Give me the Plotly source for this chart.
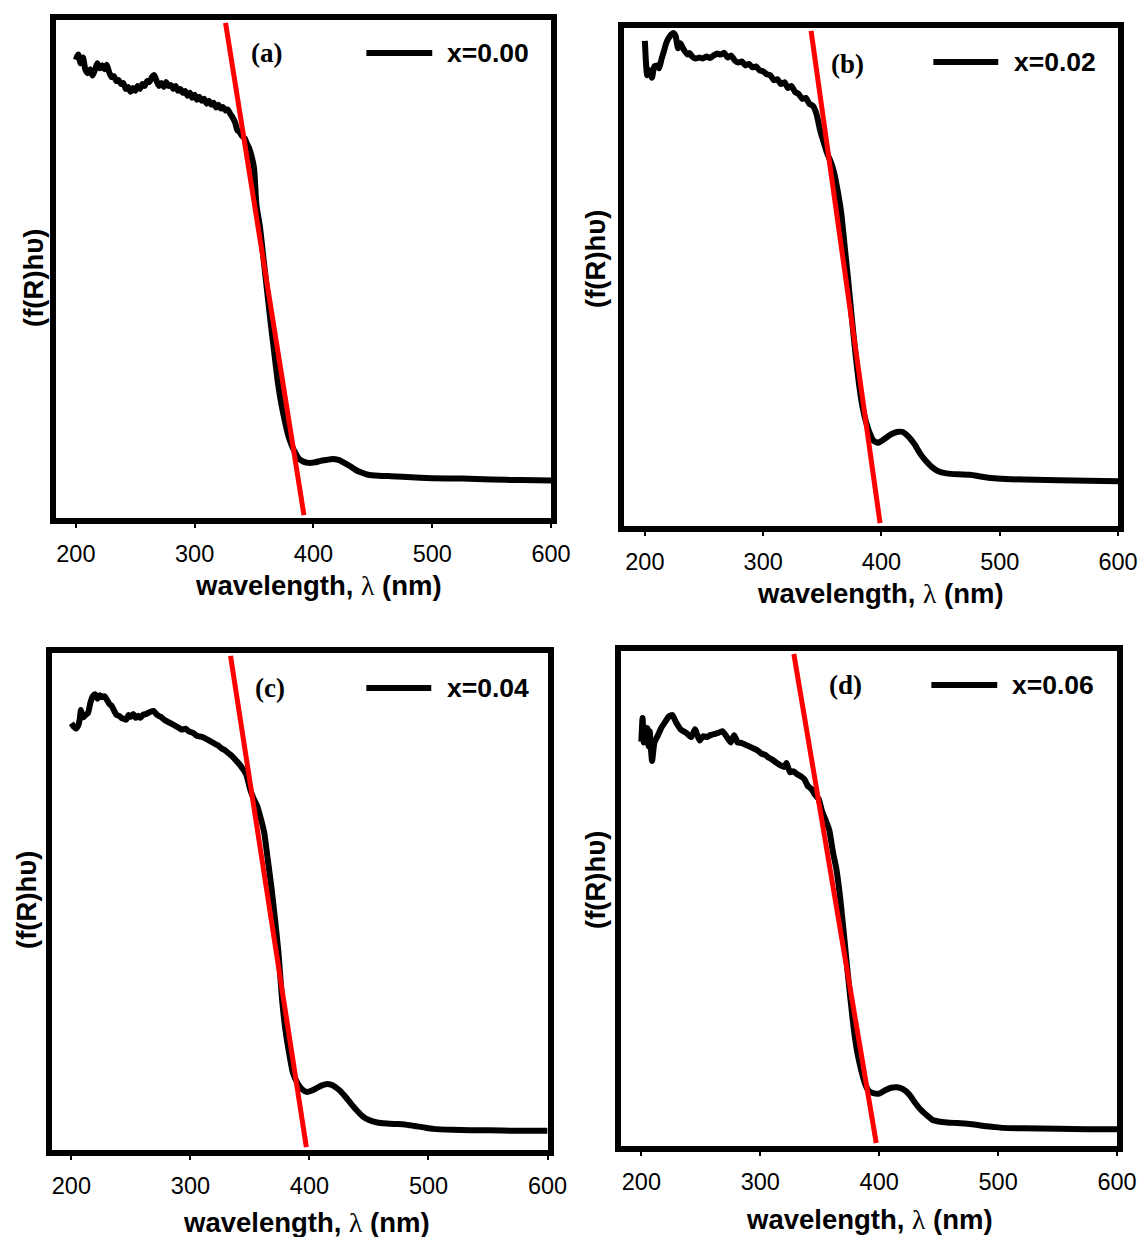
import plotly.graph_objects as go

W, H = 1144, 1237      # reference picture size; all pixel positions below are measured on it
FIG_W = 1162           # page is photographed slightly wider than it is compared, so widen to fill

# ---- data (y is a fraction of the frame height) ----
wl_a = [
    200, 202, 204, 206, 208, 210, 212, 214, 216, 218,
    220, 222, 224, 226, 228, 230, 232, 234, 236, 238,
    240, 242, 244, 246, 248, 250, 252, 254, 256, 258,
    260, 262, 264, 266, 268, 270, 272, 274, 276, 278,
    280, 282, 284, 286, 288, 290, 292, 294, 296, 298,
    300, 302, 304, 306, 308, 310, 312, 314, 316, 318,
    320, 322, 324, 326, 328, 330, 332, 334, 336, 338,
    340, 342, 344, 346, 348, 350, 352, 355, 358, 361,
    364, 367, 370, 373, 376, 379, 382, 385, 388, 392,
    396, 401, 406, 411, 416, 421, 426, 431, 436, 441,
    446, 455, 465, 475, 490, 500, 525, 550, 575, 600,
]
fr_a = [
    0.925, 0.936, 0.918, 0.930, 0.905, 0.898, 0.906, 0.893, 0.904, 0.918,
    0.908, 0.914, 0.906, 0.915, 0.900, 0.890, 0.892, 0.882, 0.884, 0.876,
    0.878, 0.866, 0.870, 0.860, 0.868, 0.862, 0.872, 0.866, 0.876, 0.872,
    0.882, 0.880, 0.890, 0.894, 0.882, 0.872, 0.878, 0.870, 0.880, 0.872,
    0.874, 0.866, 0.872, 0.862, 0.866, 0.858, 0.862, 0.852, 0.858, 0.848,
    0.854, 0.844, 0.850, 0.842, 0.846, 0.836, 0.842, 0.834, 0.838, 0.828,
    0.834, 0.826, 0.829, 0.822, 0.824, 0.815, 0.808, 0.798, 0.782, 0.778,
    0.770, 0.766, 0.755, 0.745, 0.728, 0.705, 0.630, 0.585, 0.520, 0.455,
    0.390, 0.330, 0.270, 0.225, 0.190, 0.160, 0.140, 0.125, 0.114, 0.108,
    0.106, 0.107, 0.110, 0.112, 0.114, 0.112, 0.106, 0.099, 0.091, 0.086,
    0.082, 0.080, 0.079, 0.078, 0.076, 0.075, 0.074, 0.072, 0.071, 0.070,
]

wl_b = [
    200, 202, 204, 206, 208, 210, 212, 214, 216, 218,
    220, 222, 224, 226, 228, 230, 232, 234, 236, 238,
    240, 243, 246, 249, 252, 255, 258, 261, 264, 267,
    270, 273, 276, 279, 282, 285, 288, 291, 294, 297,
    300, 303, 306, 309, 312, 315, 318, 321, 324, 327,
    330, 333, 336, 339, 342, 345, 348, 351, 354, 357,
    360, 363, 366, 369, 372, 375, 378, 381, 384, 387,
    390, 393, 397, 402, 408, 413, 418, 423, 428, 433,
    438, 443, 448, 455, 465, 475, 485, 495, 510, 530,
    550, 575, 600,
]
fr_b = [
    0.980, 0.910, 0.920, 0.905, 0.928, 0.930, 0.924, 0.942, 0.958, 0.975,
    0.985, 0.992, 0.996, 0.990, 0.965, 0.975, 0.966, 0.958, 0.952, 0.955,
    0.948, 0.944, 0.946, 0.944, 0.948, 0.945, 0.950, 0.954, 0.952, 0.956,
    0.946, 0.950, 0.940, 0.936, 0.938, 0.930, 0.933, 0.926, 0.928, 0.920,
    0.918, 0.912, 0.910, 0.900, 0.902, 0.892, 0.896, 0.884, 0.888, 0.876,
    0.872, 0.862, 0.864, 0.852, 0.848, 0.832, 0.800, 0.775, 0.752, 0.735,
    0.712, 0.675, 0.630, 0.560, 0.490, 0.415, 0.345, 0.283, 0.236, 0.205,
    0.183, 0.168, 0.163, 0.170, 0.180, 0.185, 0.185, 0.175, 0.160, 0.140,
    0.125, 0.113, 0.105, 0.101, 0.099, 0.098, 0.094, 0.091, 0.089, 0.088,
    0.087, 0.086, 0.085,
]

wl_c = [
    200, 202, 204, 206, 207, 208, 209, 210, 212, 214,
    216, 218, 220, 222, 224, 226, 228, 230, 232, 234,
    236, 238, 240, 242, 244, 246, 248, 250, 252, 254,
    256, 258, 260, 263, 266, 269, 272, 275, 278, 281,
    284, 287, 290, 293, 296, 299, 302, 305, 308, 311,
    314, 317, 320, 323, 326, 329, 332, 335, 338, 341,
    344, 347, 350, 353, 356, 359, 362, 365, 368, 371,
    374, 377, 380, 383, 386, 390, 394, 398, 402, 406,
    410, 414, 418, 422, 426, 430, 435, 440, 445, 450,
    457, 465, 472, 480, 488, 496, 504, 520, 550, 575,
    600,
]
fr_c = [
    0.863, 0.856, 0.852, 0.860, 0.871, 0.890, 0.880, 0.875, 0.880, 0.884,
    0.905, 0.918, 0.922, 0.913, 0.920, 0.916, 0.918, 0.910, 0.902, 0.898,
    0.888, 0.880, 0.878, 0.874, 0.872, 0.870, 0.880, 0.876, 0.882, 0.874,
    0.878, 0.874, 0.880, 0.882, 0.886, 0.888, 0.880, 0.876, 0.870, 0.866,
    0.862, 0.858, 0.854, 0.850, 0.852, 0.846, 0.844, 0.838, 0.836, 0.834,
    0.830, 0.826, 0.822, 0.818, 0.812, 0.808, 0.802, 0.796, 0.788, 0.780,
    0.770, 0.758, 0.730, 0.710, 0.695, 0.670, 0.640, 0.585, 0.530, 0.465,
    0.395, 0.300, 0.235, 0.190, 0.152, 0.130, 0.117, 0.112, 0.115, 0.120,
    0.125, 0.128, 0.127, 0.122, 0.114, 0.103, 0.088, 0.074, 0.062, 0.055,
    0.050, 0.048, 0.047, 0.046, 0.043, 0.040, 0.037, 0.035, 0.034, 0.033,
    0.033,
]

wl_d = [
    200, 201, 202, 203, 204, 205, 206, 207, 208, 209,
    211, 214, 217, 220, 223, 226, 229, 233, 238, 242,
    245, 249, 252, 255, 258, 261, 264, 268, 272, 275,
    278, 281, 284, 287, 290, 294, 297, 301, 304, 307,
    310, 314, 317, 320, 322, 325, 328, 331, 334, 337,
    340, 343, 346, 349, 352, 355, 358, 361, 364, 367,
    370, 373, 376, 379, 382, 385, 388, 391, 395, 400,
    405, 410, 415, 420, 425, 430, 435, 440, 445, 450,
    457, 465, 472, 480, 488, 496, 504, 520, 550, 575,
    600,
]
fr_d = [
    0.821, 0.869, 0.819, 0.850, 0.838, 0.848, 0.811, 0.842, 0.807, 0.781,
    0.819, 0.834, 0.850, 0.861, 0.872, 0.875, 0.861, 0.846, 0.838, 0.830,
    0.846, 0.823, 0.832, 0.830, 0.834, 0.836, 0.838, 0.842, 0.830, 0.819,
    0.834, 0.819, 0.818, 0.815, 0.812, 0.807, 0.804, 0.796, 0.794, 0.788,
    0.784, 0.777, 0.772, 0.769, 0.777, 0.758, 0.760, 0.754, 0.750, 0.744,
    0.730, 0.724, 0.712, 0.704, 0.678, 0.660, 0.640, 0.596, 0.560, 0.505,
    0.435, 0.360, 0.290, 0.226, 0.180, 0.148, 0.122, 0.107, 0.102, 0.101,
    0.108, 0.113, 0.114, 0.110, 0.100, 0.083, 0.068, 0.057, 0.047, 0.044,
    0.042, 0.041, 0.040, 0.038, 0.035, 0.033, 0.031, 0.030, 0.029, 0.028,
    0.028,
]

# linear band-edge fits: wavelength where the red line meets the top / bottom of the frame
fit_top = [326.0, 340.5, 333.7, 328.2]
fit_bottom = [392.0, 398.8, 397.4, 397.5]

panel_tags = ["(a)", "(b)", "(c)", "(d)"]
series_names = ["x=0.00", "x=0.02", "x=0.04", "x=0.06"]
x_ticks = [200, 300, 400, 500, 600]

WL = [wl_a, wl_b, wl_c, wl_d]
FR = [fr_a, fr_b, fr_c, fr_d]

# ---- layout in reference pixels: frame left, 200-tick x, 600-tick x, frame top, frame bottom ----
BOXES = [
    (53, 76, 552, 17, 521),
    (622, 646, 1120, 25, 529),
    (49, 71.5, 548.5, 650, 1153),
    (619, 642.5, 1119, 648, 1149),
]
TAG_POS = [(267, 53), (849, 64), (270, 688), (847, 685)]
LEG_LINE = [(367, 433, 53), (935, 1000, 62), (367, 432, 688), (933, 999, 685)]
LEG_TEXT = [(446, 53), (1014, 62), (446, 688), (1012, 685)]
XT_POS = [(319, 586), (882, 593), (307, 1222), (871, 1219)]
YT_POS = [(34, 278), (597, 259), (26, 900), (596, 880)]

SANS = "Liberation Sans, Arial, sans-serif"
SERIF = "Liberation Serif, Times New Roman, serif"
LW = 6


def px(x):
    return x / W


def py(y):
    return 1 - y / H


fig = go.Figure()
layout = {}
annotations = []
shapes = []

for i, (left, x200, x600, top, bottom) in enumerate(BOXES):
    sfx = "" if i == 0 else str(i + 1)
    fig.add_trace(go.Scatter(
        x=WL[i], y=FR[i], xaxis="x" + sfx, yaxis="y" + sfx, mode="lines",
        line=dict(color="black", width=6, shape="spline", smoothing=0.5),
        showlegend=False, hoverinfo="skip",
    ))
    fig.add_trace(go.Scatter(
        x=[fit_top[i], fit_bottom[i]], y=[1, 0], xaxis="x" + sfx, yaxis="y" + sfx,
        mode="lines", line=dict(color="#ff0000", width=5),
        showlegend=False, hoverinfo="skip",
    ))

    scale = (x600 - x200) / 400
    inner_l = left + LW / 2
    lo = 200 - (x200 - inner_l) / scale
    h = bottom - top
    layout["xaxis" + sfx] = dict(
        domain=[px(inner_l), px(x600)], range=[lo, 600], anchor="y" + sfx,
        tickvals=x_ticks, ticks="outside", ticklen=4, tickwidth=2, tickcolor="black",
        showline=True, linewidth=LW, linecolor="black", mirror=True,
        showgrid=False, zeroline=False, ticklabelstandoff=6,
        tickfont=dict(family=SANS, size=23.5, color="black"),
    )
    layout["yaxis" + sfx] = dict(
        domain=[py(bottom - LW / 2), py(top + LW / 2)],
        range=[-(LW / 2) / (h - LW), 1 + (LW / 2) / (h - LW)], anchor="x" + sfx,
        showline=True, linewidth=LW, linecolor="black", mirror=True,
        showgrid=False, zeroline=False, showticklabels=False, ticks="",
    )

    tx, ty = TAG_POS[i]
    annotations.append(dict(
        x=px(tx), y=py(ty), xref="paper", yref="paper", text="<b>%s</b>" % panel_tags[i],
        showarrow=False, xanchor="center", yanchor="middle",
        font=dict(family=SERIF, size=27, color="black"),
    ))
    lx0, lx1, ly = LEG_LINE[i]
    shapes.append(dict(
        type="line", xref="paper", yref="paper", x0=px(lx0), x1=px(lx1), y0=py(ly), y1=py(ly),
        line=dict(color="black", width=6),
    ))
    ltx, lty = LEG_TEXT[i]
    annotations.append(dict(
        x=px(ltx), y=py(lty), xref="paper", yref="paper", text="<b>%s</b>" % series_names[i],
        showarrow=False, xanchor="left", yanchor="middle",
        font=dict(family=SANS, size=26.5, color="black"),
    ))
    xx, xy = XT_POS[i]
    annotations.append(dict(
        x=px(xx), y=py(xy), xref="paper", yref="paper",
        text="<b>wavelength, </b><span style=\"font-family:Liberation Serif\">λ</span><b> (nm)</b>",
        showarrow=False, xanchor="center", yanchor="middle",
        font=dict(family=SANS, size=27.5, color="black"),
    ))
    yx, yy = YT_POS[i]
    annotations.append(dict(
        x=px(yx), y=py(yy), xref="paper", yref="paper", text="<b>(f(R)hυ)</b>",
        showarrow=False, xanchor="center", yanchor="middle", textangle=-90,
        font=dict(family=SANS, size=27.5, color="black"),
    ))

fig.update_layout(
    width=FIG_W, height=H, margin=dict(l=0, r=0, t=0, b=0),
    paper_bgcolor="white", plot_bgcolor="white",
    showlegend=False, annotations=annotations, shapes=shapes,
    **layout,
)

# drop the default 8 px page margin so the figure starts at the window corner
fig.write_html(
    "out.html",
    config={"displayModeBar": False},
    post_script="document.body.style.margin = '0px'; document.body.style.overflow = 'hidden';",
)
